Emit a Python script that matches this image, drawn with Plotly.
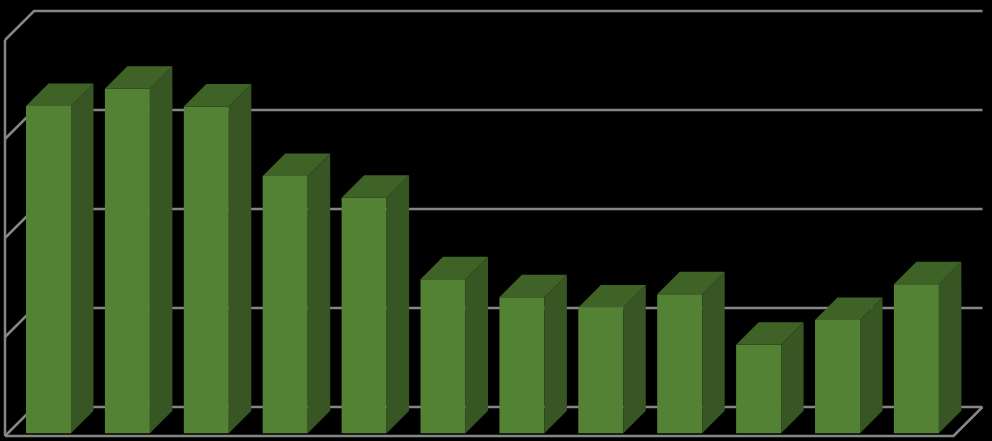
import plotly.graph_objects as go

categories = ["1", "2", "3", "4", "5", "6", "7", "8", "9", "10", "11", "12"]
values = [66.1, 69.6, 66.0, 52.0, 47.6, 31.1, 27.5, 25.4, 28.1, 17.9, 22.9, 30.1]
grid_values = [0, 20, 40, 60, 80]

FRONT = "#548235"
TOP = "#3f6327"
SIDE = "#375623"
LINE = "#868686"

PX_X = 78.9      # pixels per category
PX_Y = 4.95      # pixels per value unit
X0 = 48.5        # pixel of first bar centre
Y0 = 433.3       # pixel of value 0 in the bar plane
BAR_W = 45 / PX_X
DEPTH_X = 22.5 / PX_X
DEPTH_Y = 22.5 / PX_Y
WALL_X = 29 / PX_X
WALL_Y = 29 / PX_Y
FLOOR_X0 = (5 - X0) / PX_X
FLOOR_X1 = (953.5 - X0) / PX_X
FLOOR_Y = (Y0 - 436) / PX_Y
xs = list(range(len(values)))

fig = go.Figure()


def poly_line(px, py):
    fig.add_trace(go.Scatter(x=px, y=py, mode="lines", hoverinfo="skip", showlegend=False,
                             line=dict(color=LINE, width=2.5), yaxis="y"))


# walls and floor
poly_line([FLOOR_X0, FLOOR_X0], [FLOOR_Y, FLOOR_Y + grid_values[-1]])
for g in grid_values:
    poly_line([FLOOR_X0, FLOOR_X0 + WALL_X, FLOOR_X1 + WALL_X],
              [FLOOR_Y + g, FLOOR_Y + g + WALL_Y, FLOOR_Y + g + WALL_Y])
poly_line([FLOOR_X0, FLOOR_X1, FLOOR_X1 + WALL_X], [FLOOR_Y, FLOOR_Y, FLOOR_Y + WALL_Y])

# bar front faces
fig.add_trace(go.Bar(x=xs, y=values, width=BAR_W, marker=dict(color=FRONT, line=dict(width=0)),
                     showlegend=False, yaxis="y2"))

# bar side and top faces
for x, v in zip(xs, values):
    l, r = x - BAR_W / 2, x + BAR_W / 2
    fig.add_trace(go.Scatter(x=[r, r + DEPTH_X, r + DEPTH_X, r, r], y=[0, DEPTH_Y, v + DEPTH_Y, v, 0],
                             mode="lines", fill="toself", fillcolor=SIDE, line=dict(width=0, color=SIDE),
                             hoverinfo="skip", showlegend=False, yaxis="y2"))
    fig.add_trace(go.Scatter(x=[l, l + DEPTH_X, r + DEPTH_X, r, l], y=[v, v + DEPTH_Y, v + DEPTH_Y, v, v],
                             mode="lines", fill="toself", fillcolor=TOP, line=dict(width=0, color=TOP),
                             hoverinfo="skip", showlegend=False, yaxis="y2"))

y_range = [(Y0 - 441) / PX_Y, Y0 / PX_Y]
fig.update_layout(
    width=992, height=441, margin=dict(l=0, r=0, t=0, b=0),
    paper_bgcolor="#000000", plot_bgcolor="#000000",
    xaxis=dict(range=[(0 - X0) / PX_X, (992 - X0) / PX_X], visible=False, fixedrange=True),
    yaxis=dict(range=y_range, visible=False, fixedrange=True),
    yaxis2=dict(range=y_range, visible=False, overlaying="y", fixedrange=True),
    barmode="overlay",
)
fig.write_html("out.html", config={"displayModeBar": False},
               post_script="document.body.style.margin='0';document.body.style.background='#000';")
